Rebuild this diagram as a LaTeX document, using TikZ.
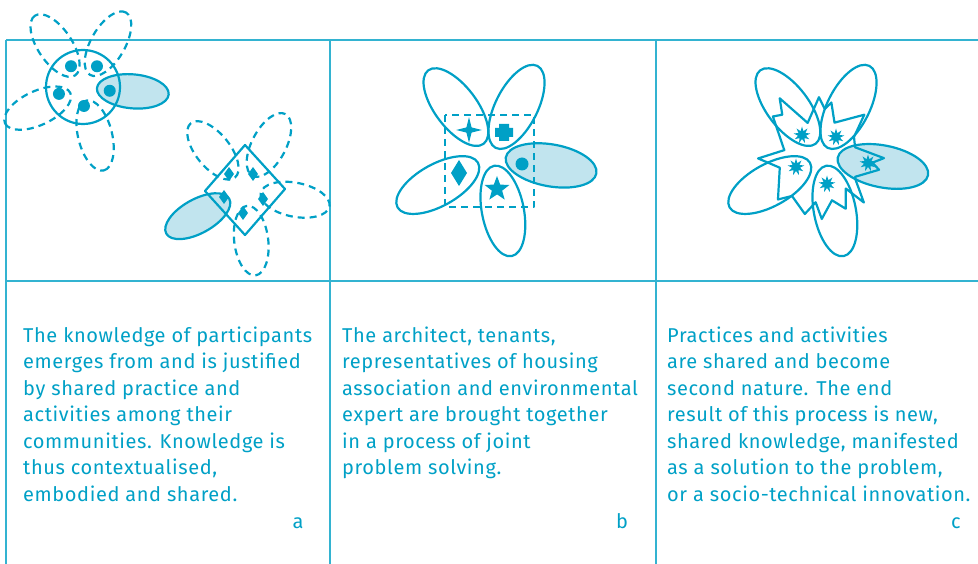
\documentclass[tikz,border=0pt]{standalone}
\usepackage{fontspec}
\setmainfont{Fira Sans}[LetterSpace=3]
\usetikzlibrary{shapes.geometric}
\definecolor{ink}{RGB}{0,160,198}
\definecolor{petalfill}{RGB}{193,228,238}
\newcommand{\captionsize}{\fontsize{20}{26.5}\selectfont}

\begin{document}
\begin{tikzpicture}[x=1pt, y=-1pt, line join=round]
  \tikzset{
    grid/.style={draw=ink!80, line width=1.6pt},
    outline/.style={draw=ink, line width=2.2pt},
    dashline/.style={outline, dash pattern=on 7pt off 5pt},
    caption/.style={text=ink, anchor=base west, align=left, inner sep=0pt, font=\captionsize},
    letter/.style={text=ink, anchor=base, inner sep=0pt, font=\captionsize},
    symbol/.style={fill=ink, draw=none, inner sep=0pt},
    burst/.style={symbol, star, star points=9, star point ratio=2.1, minimum size=17pt},
  }
  \useasboundingbox (0,0) rectangle (978,564);

  % table
  \draw[grid] (6,40) -- (978,40);
  \draw[grid] (6,281) -- (978,281);
  \foreach \x in {6,330,656}
    \draw[grid] (\x,40) -- (\x,564);

  % panel a, round community
  \begin{scope}[shift={(83,87)}, y=1pt]
    \foreach \a in {60,124,205,284}
      \draw[dashline, rotate=\a] (50,0) ellipse [x radius=36, y radius=17];
    \fill[petalfill, rotate=-5] (50,0) ellipse [x radius=36, y radius=17];
    \draw[outline] (0,0) circle [radius=37];
    \draw[outline, rotate=-5] (50,0) ellipse [x radius=36, y radius=17];
    \foreach \a/\r in {-8/27, 56/25, 120/24, 196/25, 273/19}
      \fill[ink] (\a:\r) circle [radius=6];
  \end{scope}

  % panel a, square community
  \begin{scope}[shift={(245,190)}, y=1pt]
    \foreach \a in {-11,62,129,277}
      \draw[dashline, rotate=\a] (51,0) ellipse [x radius=35, y radius=17];
    \fill[petalfill, rotate=209] (54,0) ellipse [x radius=36, y radius=17];
    \draw[outline] (0,45) -- (40,1) -- (0,-45) -- (-40,-1) -- cycle;
    \draw[outline, rotate=209] (54,0) ellipse [x radius=36, y radius=17];
    \foreach \x/\y in {-16/16, 8/16, 18/-9, -2/-23, -21/-7}
      \fill[ink] (\x,\y+7) -- (\x+5,\y) -- (\x,\y-7) -- (\x-5,\y) -- cycle;
  \end{scope}

  % panel b, joint problem solving
  \begin{scope}[shift={(492,155)}, y=1pt]
    \fill[petalfill, rotate=-10] (60,0) ellipse [x radius=46, y radius=21];
    \foreach \a/\d in {-10/60, 63/54, 127/60, 209/62, 281/57}
      \draw[outline, rotate=\a] (\d,0) ellipse [x radius=46, y radius=21];
    \draw[dashline] (-47,40) rectangle (42,-52);
    \fill[ink] (7,31) -- (17,31) -- (17,27) -- (21,27) -- (21,18) -- (17,18)
      -- (17,14) -- (7,14) -- (7,18) -- (3,18) -- (3,27) -- (7,27) -- cycle;
    \node[symbol, star, star points=4, star point ratio=3.6, minimum size=26pt] (spark) at (-23,25) {};
    \fill[ink] (30,-9) circle [radius=6.5];
    \fill[ink] (-33,-5) -- (-25,-18) -- (-33,-31) -- (-41,-18) -- cycle;
    \node[symbol, star, star points=5, star point ratio=2.4, minimum size=26pt] (star) at (5,-34) {};
  \end{scope}

  % panel c, shared knowledge
  \begin{scope}[shift={(824,155)}, y=1pt]
    \fill[petalfill, rotate=-11] (60,0) ellipse [x radius=46, y radius=21];
    \foreach \a/\d in {-11/60, 63/54, 127/60, 209/62, 281/57}
      \draw[outline, rotate=\a] (\d,0) ellipse [x radius=46, y radius=21];
    \draw[outline] (-35:38)
      \foreach \a/\r in {-15/57, -9/49, -3/60, 14/32, 31/35, 45/57, 72/34, 82/53,
        89/46, 95/58, 117/36, 128/72, 136/58, 143/64, 173/40, 183/66, 196/46,
        224/64, 232/52, 252/62, 260/48, 268/64, 280/46, 292/58, 303/40, 310/62, 322/40}
        { -- (\a:\r) } -- cycle;
    \foreach \x/\y [count=\i] in {-22/20, 12/18, -28/-12, 3/-29, 44/-8}
      \node[burst] (burst\i) at (\x,\y) {};
  \end{scope}

  % captions (base = last line)
  \node[caption] (texta) at (23,501) {The knowledge of participants\\emerges from and is justified\\by shared practice and\\activities among their\\communities. Knowledge is\\thus contextualised,\\embodied and shared.};
  \node[caption] (textb) at (342,474.5) {The architect, tenants,\\representatives of housing\\association and environmental\\expert are brought together\\in a process of joint\\problem solving.};
  \node[caption] (textc) at (667,501) {Practices and activities\\are shared and become\\second nature. The end\\result of this process is new,\\shared knowledge, manifested\\as a solution to the problem,\\or a socio-technical innovation.};
  \node[letter] (laba) at (298,528) {a};
  \node[letter] (labb) at (622,528) {b};
  \node[letter] (labc) at (956,528) {c};
\end{tikzpicture}
\end{document}
